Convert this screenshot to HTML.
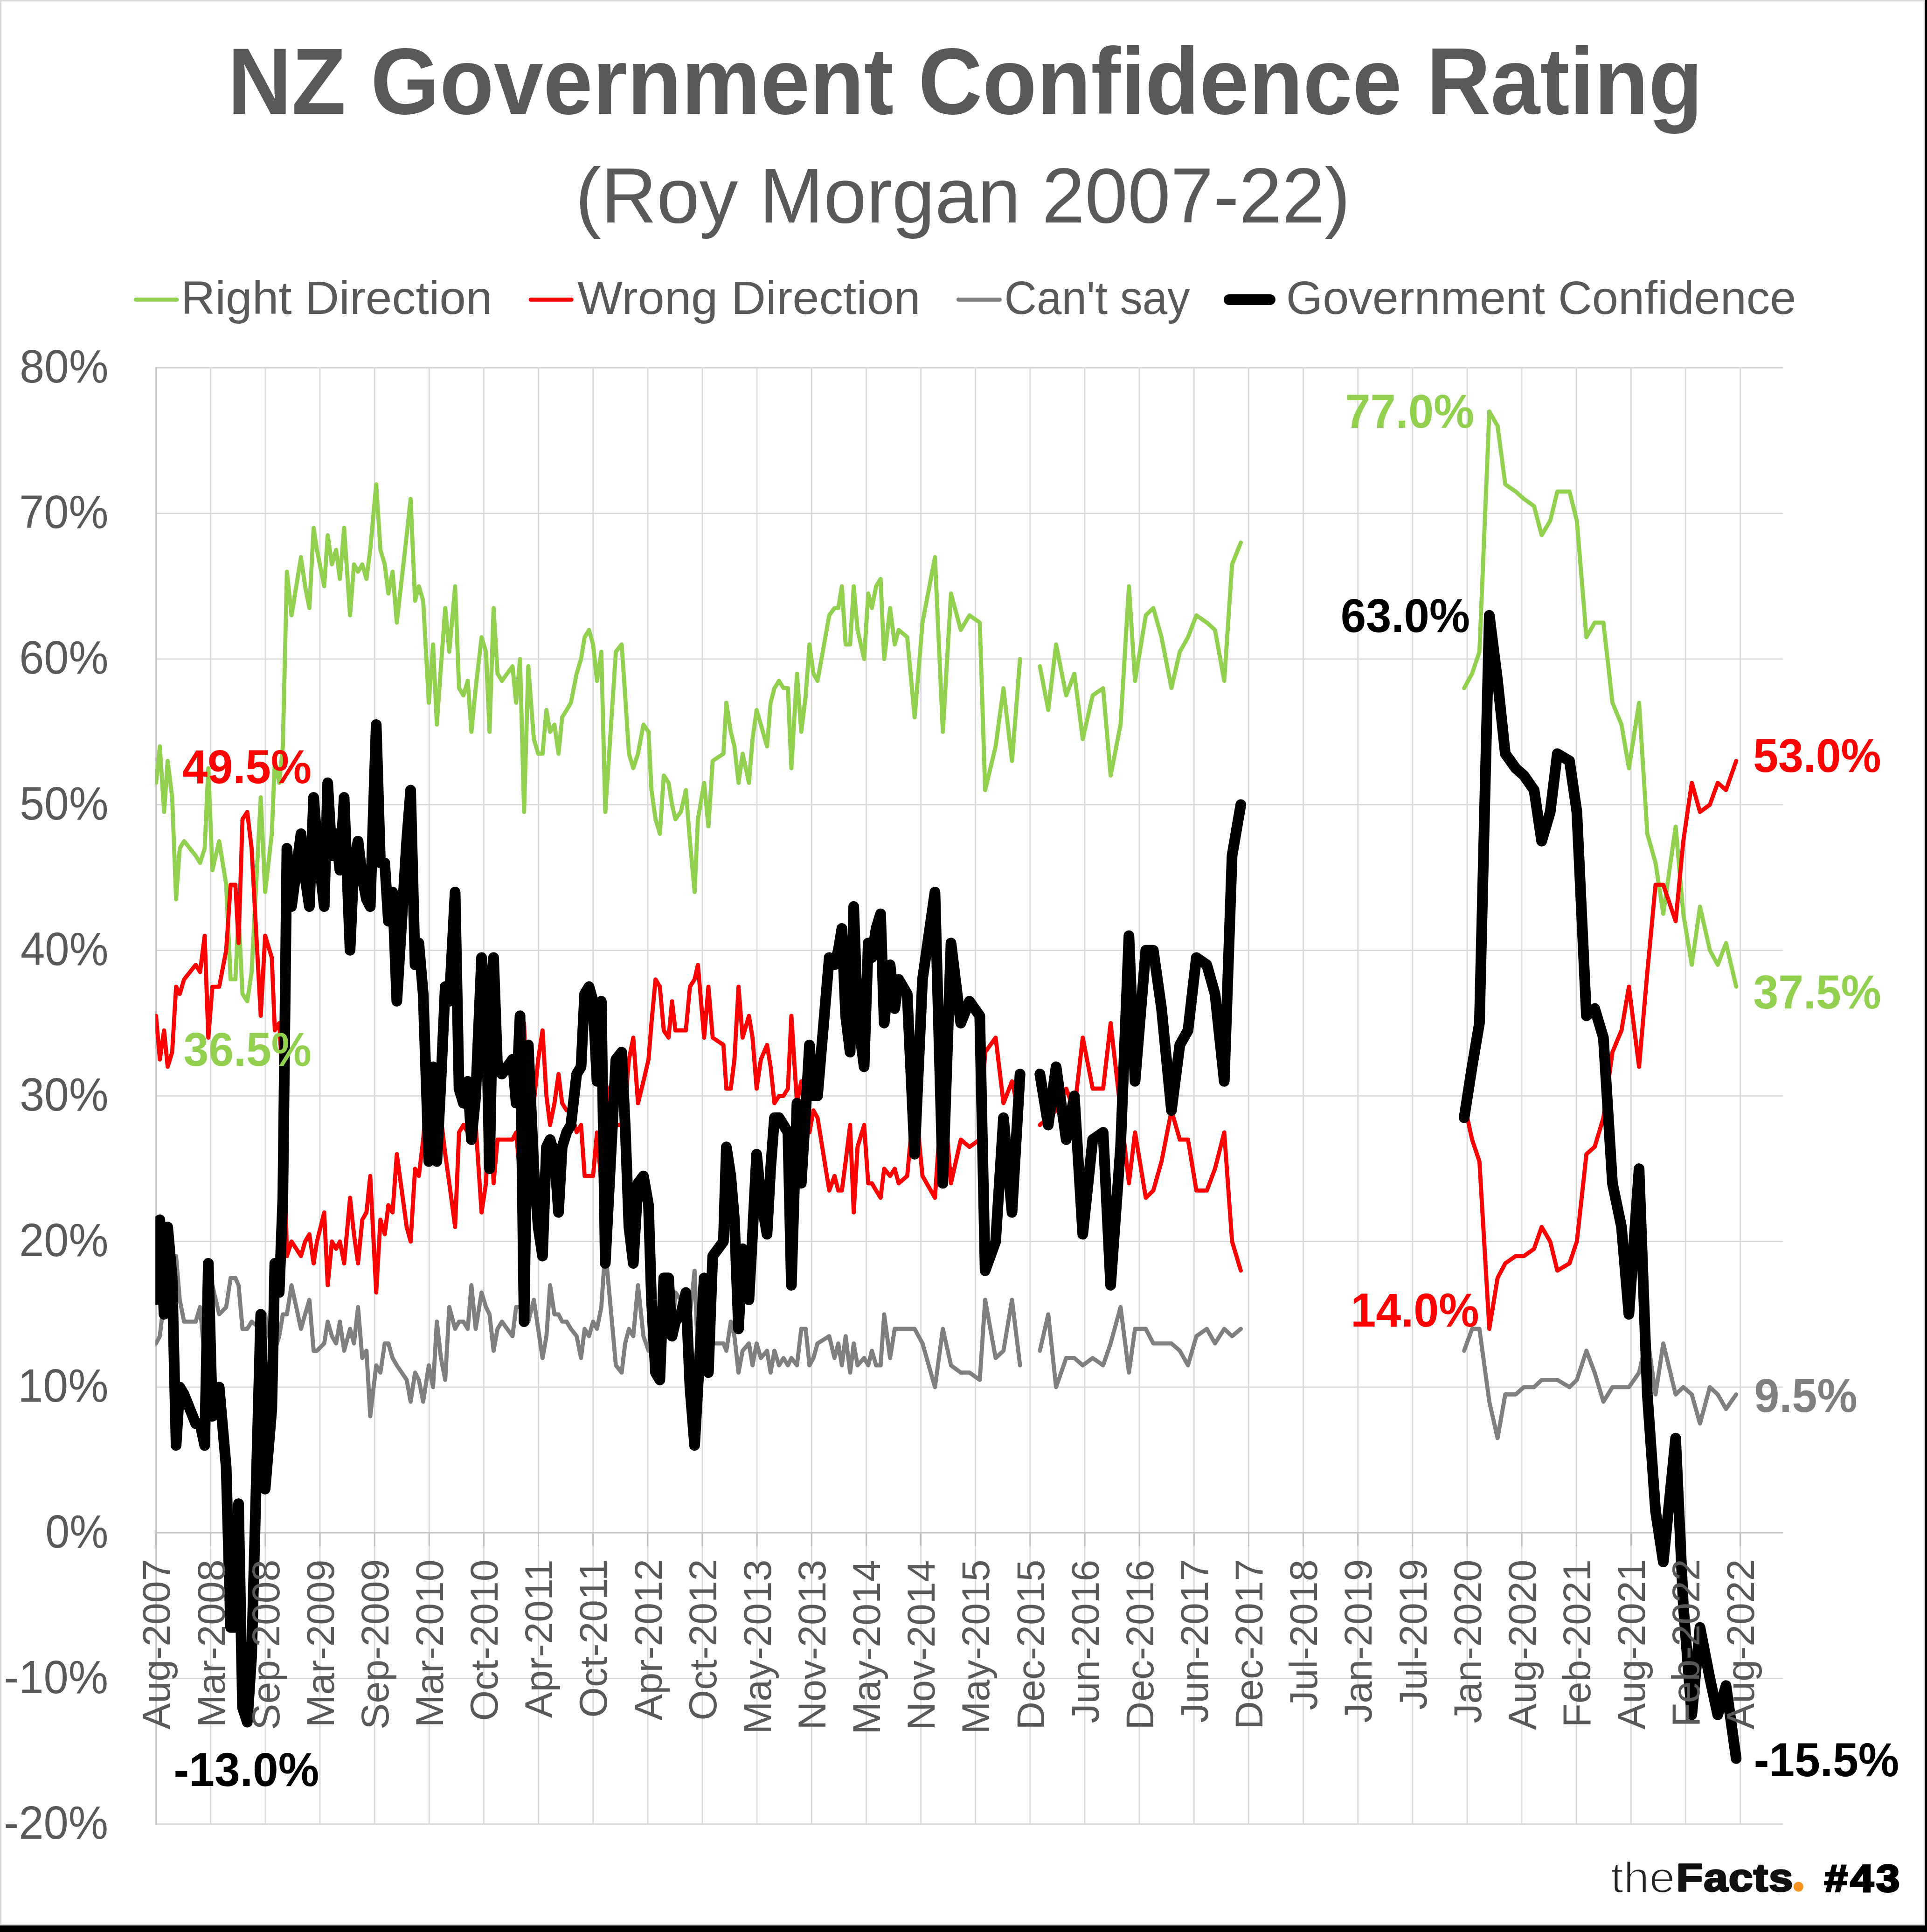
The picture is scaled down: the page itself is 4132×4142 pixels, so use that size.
<!DOCTYPE html>
<html><head><meta charset="utf-8"><title>NZ Government Confidence Rating</title>
<style>html,body{margin:0;padding:0;background:#fff;width:4132px;height:4142px;overflow:hidden}
svg text{font-family:"Liberation Sans",sans-serif}</style></head>
<body>
<svg width="4132" height="4142" viewBox="0 0 4132 4142" style="display:block;position:absolute;left:0;top:0">
<rect x="0" y="0" width="4132" height="4142" fill="#000"/>
<rect x="0" y="0" width="4128" height="4128" fill="#D9D9D9"/>
<rect x="3" y="3" width="4122" height="4122" fill="#fff"/>
<path d="M451.7 787.1V3911.9 M568.9 787.1V3911.9 M686.0 787.1V3911.9 M803.2 787.1V3911.9 M920.3 787.1V3911.9 M1037.4 787.1V3911.9 M1154.6 787.1V3911.9 M1271.7 787.1V3911.9 M1388.9 787.1V3911.9 M1506.0 787.1V3911.9 M1623.1 787.1V3911.9 M1740.3 787.1V3911.9 M1857.4 787.1V3911.9 M1974.6 787.1V3911.9 M2091.7 787.1V3911.9 M2208.8 787.1V3911.9 M2326.0 787.1V3911.9 M2443.1 787.1V3911.9 M2560.3 787.1V3911.9 M2677.4 787.1V3911.9 M2794.5 787.1V3911.9 M2911.7 787.1V3911.9 M3028.8 787.1V3911.9 M3146.0 787.1V3911.9 M3263.1 787.1V3911.9 M3380.2 787.1V3911.9 M3497.4 787.1V3911.9 M3614.5 787.1V3911.9 M3731.7 787.1V3911.9 M334.6 788.5H3823.5 M334.6 1100.7H3823.5 M334.6 1412.9H3823.5 M334.6 1725.1H3823.5 M334.6 2037.3H3823.5 M334.6 2349.5H3823.5 M334.6 2661.7H3823.5 M334.6 2973.9H3823.5 M334.6 3598.3H3823.5 M334.6 3910.5H3823.5" stroke="#D9D9D9" stroke-width="2.8" fill="none"/>
<path d="M334.6 787.1V3911.9 M334.6 3286.1H3823.5" stroke="#BFBFBF" stroke-width="2.9" fill="none"/>
<path d="M334.6 3286.1v29 M451.7 3286.1v29 M568.9 3286.1v29 M686.0 3286.1v29 M803.2 3286.1v29 M920.3 3286.1v29 M1037.4 3286.1v29 M1154.6 3286.1v29 M1271.7 3286.1v29 M1388.9 3286.1v29 M1506.0 3286.1v29 M1623.1 3286.1v29 M1740.3 3286.1v29 M1857.4 3286.1v29 M1974.6 3286.1v29 M2091.7 3286.1v29 M2208.8 3286.1v29 M2326.0 3286.1v29 M2443.1 3286.1v29 M2560.3 3286.1v29 M2677.4 3286.1v29 M2794.5 3286.1v29 M2911.7 3286.1v29 M3028.8 3286.1v29 M3146.0 3286.1v29 M3263.1 3286.1v29 M3380.2 3286.1v29 M3497.4 3286.1v29 M3614.5 3286.1v29 M3731.7 3286.1v29" stroke="#BFBFBF" stroke-width="2.9" fill="none"/>
<clipPath id="pc"><rect x="333.2" y="700" width="3490.3" height="3300"/></clipPath><g clip-path="url(#pc)">
<path d="M334.6 1678.3 L342.7 1600.2 L351.8 1740.7 L359.5 1631.4 L369.2 1709.5 L377.6 1928.0 L385.4 1818.8 L394.7 1803.2 L419.6 1834.4 L429.0 1850.0 L438.9 1818.8 L446.7 1647.0 L455.4 1865.6 L470.0 1803.2 L485.0 1896.8 L494.5 2099.7 L504.8 2099.7 L511.5 1959.2 L520.0 2131.0 L530.2 2146.6 L539.5 2084.1 L559.1 1709.5 L568.5 1912.4 L582.8 1787.5 L589.3 1631.4 L598.7 1678.3 L606.5 1600.2 L615.2 1225.6 L625.1 1319.2 L645.4 1194.4 L654.2 1256.8 L663.4 1303.6 L672.5 1131.9 L679.6 1178.8 L695.2 1256.8 L702.7 1147.5 L711.7 1210.0 L720.7 1178.8 L728.8 1241.2 L737.9 1131.9 L750.6 1319.2 L759.0 1210.0 L767.7 1225.6 L776.8 1210.0 L785.8 1241.2 L793.9 1178.8 L806.7 1038.3 L815.7 1178.8 L825.0 1210.0 L832.8 1272.4 L841.8 1225.6 L850.9 1334.8 L872.0 1147.5 L880.5 1069.5 L890.0 1288.0 L898.1 1256.8 L907.4 1288.0 L919.5 1506.6 L928.6 1381.7 L936.7 1553.4 L945.5 1428.5 L954.7 1303.6 L963.4 1397.3 L975.9 1256.8 L984.3 1475.3 L993.6 1490.9 L1003.0 1459.7 L1010.8 1569.0 L1020.0 1475.3 L1032.6 1366.1 L1042.0 1397.3 L1049.7 1569.0 L1058.4 1303.6 L1066.8 1444.1 L1076.2 1459.7 L1098.9 1428.5 L1106.7 1506.6 L1115.1 1412.9 L1123.8 1740.7 L1132.8 1428.5 L1144.7 1584.6 L1154.0 1615.8 L1163.3 1615.8 L1171.7 1522.2 L1179.5 1569.0 L1188.9 1553.4 L1197.6 1615.8 L1205.4 1537.8 L1215.0 1522.2 L1224.1 1506.6 L1236.5 1444.1 L1245.9 1412.9 L1253.6 1366.1 L1263.0 1350.5 L1271.7 1381.7 L1280.1 1459.7 L1289.4 1397.3 L1297.9 1740.7 L1320.6 1397.3 L1333.0 1381.7 L1340.5 1490.9 L1348.6 1615.8 L1357.9 1647.0 L1368.0 1615.8 L1379.7 1553.4 L1390.6 1569.0 L1396.9 1693.9 L1405.6 1756.3 L1414.9 1787.5 L1423.3 1662.7 L1433.6 1678.3 L1441.0 1725.1 L1448.2 1756.3 L1459.8 1740.7 L1470.7 1693.9 L1479.4 1803.2 L1489.4 1912.4 L1496.5 1756.3 L1509.9 1678.3 L1519.0 1771.9 L1528.2 1631.4 L1551.2 1615.8 L1557.5 1506.6 L1567.0 1569.0 L1574.8 1600.2 L1583.6 1678.3 L1592.4 1615.8 L1605.9 1678.3 L1613.6 1584.6 L1622.4 1522.2 L1631.5 1553.4 L1644.7 1600.2 L1652.4 1506.6 L1660.6 1475.3 L1670.4 1459.7 L1680.0 1475.3 L1689.5 1475.3 L1696.9 1647.0 L1708.9 1444.1 L1718.1 1569.0 L1727.6 1490.9 L1735.7 1381.7 L1744.2 1444.1 L1753.0 1459.7 L1778.1 1319.2 L1789.4 1303.6 L1797.5 1303.6 L1805.2 1256.8 L1813.3 1381.7 L1822.9 1381.7 L1830.6 1256.8 L1838.8 1350.5 L1852.9 1412.9 L1861.7 1272.4 L1869.5 1303.6 L1878.6 1256.8 L1888.2 1241.2 L1895.9 1412.9 L1908.6 1303.6 L1918.5 1381.7 L1927.0 1350.5 L1945.3 1366.1 L1961.2 1537.8 L1978.1 1334.8 L2004.8 1194.4 L2021.7 1569.0 L2039.2 1272.4 L2060.1 1350.5 L2078.8 1319.2 L2100.9 1334.8 L2112.4 1693.9 L2134.9 1600.2 L2151.7 1475.3 L2170.0 1631.4 L2187.2 1412.9 M2229.8 1428.5 L2247.7 1522.2 L2264.5 1381.7 L2286.2 1490.9 L2303.7 1444.1 L2321.7 1584.6 L2343.0 1490.9 L2365.4 1475.3 L2381.5 1662.7 L2402.8 1553.4 L2420.7 1256.8 L2433.8 1459.7 L2456.9 1319.2 L2473.0 1303.6 L2490.6 1366.1 L2511.9 1475.3 L2529.8 1397.3 L2547.4 1366.1 L2565.3 1319.2 L2587.7 1334.8 L2605.3 1350.5 L2625.1 1459.7 L2641.9 1210.0 L2660.6 1163.1 M3139.5 1475.3 L3156.5 1444.1 L3172.3 1397.3 L3193.5 882.2 L3211.2 913.4 L3227.7 1038.3 L3250.0 1053.9 L3267.6 1069.5 L3289.5 1085.1 L3305.7 1147.5 L3324.1 1116.3 L3339.3 1053.9 L3365.4 1053.9 L3381.2 1116.3 L3401.7 1366.1 L3419.4 1334.8 L3438.1 1334.8 L3457.5 1506.6 L3476.9 1553.4 L3492.8 1647.0 L3514.6 1506.6 L3532.3 1787.5 L3549.9 1850.0 L3566.5 1959.2 L3593.0 1771.9 L3609.5 1959.2 L3627.6 2068.5 L3645.2 1943.6 L3666.4 2037.3 L3683.3 2068.5 L3701.0 2021.7 L3722.8 2115.3" stroke="#92D050" stroke-width="8.8" fill="none" stroke-linejoin="round" stroke-linecap="round"/>
<path d="M334.6 2177.8 L342.7 2271.4 L351.8 2209.0 L359.5 2287.1 L369.2 2255.8 L377.6 2115.3 L385.4 2131.0 L394.7 2099.7 L419.6 2068.5 L429.0 2084.1 L438.9 2006.1 L446.7 2224.6 L455.4 2115.3 L470.0 2115.3 L485.0 2037.3 L494.5 1896.8 L504.8 1896.8 L511.5 2021.7 L520.0 1756.3 L530.2 1740.7 L539.5 1818.8 L559.1 2177.8 L568.5 2006.1 L582.8 2052.9 L589.3 2209.0 L598.7 2193.4 L606.5 2318.3 L615.2 2692.9 L625.1 2661.7 L645.4 2692.9 L654.2 2661.7 L663.4 2646.1 L672.5 2708.5 L679.6 2661.7 L695.2 2599.3 L702.7 2755.4 L711.7 2661.7 L720.7 2677.3 L728.8 2661.7 L737.9 2708.5 L750.6 2568.0 L759.0 2646.1 L767.7 2708.5 L776.8 2614.9 L785.8 2599.3 L793.9 2521.2 L806.7 2771.0 L815.7 2614.9 L825.0 2646.1 L832.8 2583.6 L841.8 2599.3 L850.9 2474.4 L872.0 2630.5 L880.5 2661.7 L890.0 2505.6 L898.1 2521.2 L907.4 2443.2 L919.5 2302.7 L928.6 2380.7 L936.7 2349.5 L945.5 2396.3 L954.7 2474.4 L963.4 2536.8 L975.9 2630.5 L984.3 2427.6 L993.6 2411.9 L1003.0 2427.6 L1010.8 2411.9 L1020.0 2411.9 L1032.6 2599.3 L1042.0 2536.8 L1049.7 2349.5 L1058.4 2536.8 L1066.8 2443.2 L1076.2 2443.2 L1098.9 2443.2 L1106.7 2427.6 L1115.1 2521.2 L1123.8 2193.4 L1132.8 2474.4 L1144.7 2365.1 L1154.0 2271.4 L1163.3 2209.0 L1171.7 2349.5 L1179.5 2411.9 L1188.9 2365.1 L1197.6 2302.7 L1205.4 2365.1 L1215.0 2380.7 L1224.1 2380.7 L1236.5 2427.6 L1245.9 2411.9 L1253.6 2521.2 L1263.0 2521.2 L1271.7 2521.2 L1280.1 2427.6 L1289.4 2536.8 L1297.9 2318.3 L1320.6 2411.9 L1333.0 2411.9 L1340.5 2365.1 L1348.6 2271.4 L1357.9 2224.6 L1368.0 2365.1 L1379.7 2318.3 L1390.6 2271.4 L1396.9 2193.4 L1405.6 2099.7 L1414.9 2115.3 L1423.3 2209.0 L1433.6 2224.6 L1441.0 2146.6 L1448.2 2209.0 L1459.8 2209.0 L1470.7 2209.0 L1479.4 2115.3 L1489.4 2099.7 L1496.5 2068.5 L1509.9 2224.6 L1519.0 2115.3 L1528.2 2224.6 L1551.2 2240.2 L1557.5 2333.9 L1567.0 2333.9 L1574.8 2271.4 L1583.6 2115.3 L1592.4 2224.6 L1605.9 2177.8 L1613.6 2224.6 L1622.4 2333.9 L1631.5 2271.4 L1644.7 2240.2 L1652.4 2287.1 L1660.6 2365.1 L1670.4 2349.5 L1680.0 2349.5 L1689.5 2333.9 L1696.9 2177.8 L1708.9 2365.1 L1718.1 2318.3 L1727.6 2396.3 L1735.7 2427.6 L1744.2 2380.7 L1753.0 2396.3 L1778.1 2552.4 L1789.4 2521.2 L1797.5 2552.4 L1805.2 2552.4 L1813.3 2490.0 L1822.9 2411.9 L1830.6 2599.3 L1838.8 2458.8 L1852.9 2411.9 L1861.7 2536.8 L1869.5 2536.8 L1878.6 2552.4 L1888.2 2568.0 L1895.9 2505.6 L1908.6 2521.2 L1918.5 2505.6 L1927.0 2536.8 L1945.3 2521.2 L1961.2 2349.5 L1978.1 2521.2 L2004.8 2568.0 L2021.7 2318.3 L2039.2 2536.8 L2060.1 2443.2 L2078.8 2458.8 L2100.9 2443.2 L2112.4 2255.8 L2134.9 2224.6 L2151.7 2365.1 L2170.0 2318.3 L2187.2 2396.3 M2229.8 2411.9 L2247.7 2396.3 L2264.5 2380.7 L2286.2 2333.9 L2303.7 2380.7 L2321.7 2224.6 L2343.0 2333.9 L2365.4 2333.9 L2381.5 2193.4 L2402.8 2380.7 L2420.7 2536.8 L2433.8 2427.6 L2456.9 2568.0 L2473.0 2552.4 L2490.6 2490.0 L2511.9 2380.7 L2529.8 2443.2 L2547.4 2443.2 L2565.3 2552.4 L2587.7 2552.4 L2605.3 2505.6 L2625.1 2427.6 L2641.9 2661.7 L2660.6 2724.1 M3139.5 2365.1 L3156.5 2443.2 L3172.3 2490.0 L3193.5 2849.0 L3211.2 2739.8 L3227.7 2708.5 L3250.0 2692.9 L3267.6 2692.9 L3289.5 2677.3 L3305.7 2630.5 L3324.1 2661.7 L3339.3 2724.1 L3365.4 2708.5 L3381.2 2661.7 L3401.7 2474.4 L3419.4 2458.8 L3438.1 2396.3 L3457.5 2255.8 L3476.9 2209.0 L3492.8 2115.3 L3514.6 2287.1 L3532.3 2084.1 L3549.9 1896.8 L3566.5 1896.8 L3593.0 1974.9 L3609.5 1803.2 L3627.6 1678.3 L3645.2 1740.7 L3666.4 1725.1 L3683.3 1678.3 L3701.0 1693.9 L3722.8 1631.4" stroke="#FF0000" stroke-width="8.8" fill="none" stroke-linejoin="round" stroke-linecap="round"/>
<path d="M334.6 2880.2 L342.7 2864.6 L351.8 2786.6 L359.5 2817.8 L369.2 2771.0 L377.6 2692.9 L385.4 2786.6 L394.7 2833.4 L419.6 2833.4 L429.0 2802.2 L438.9 2911.5 L446.7 2864.6 L455.4 2755.4 L470.0 2817.8 L485.0 2802.2 L494.5 2739.8 L504.8 2739.8 L511.5 2755.4 L520.0 2849.0 L530.2 2849.0 L539.5 2833.4 L559.1 2849.0 L568.5 2817.8 L582.8 2895.8 L589.3 2895.8 L598.7 2864.6 L606.5 2817.8 L615.2 2817.8 L625.1 2755.4 L645.4 2849.0 L654.2 2817.8 L663.4 2786.6 L672.5 2895.8 L679.6 2895.8 L695.2 2880.2 L702.7 2833.4 L711.7 2864.6 L720.7 2880.2 L728.8 2833.4 L737.9 2895.8 L750.6 2849.0 L759.0 2880.2 L767.7 2802.2 L776.8 2911.5 L785.8 2895.8 L793.9 3036.3 L806.7 2927.1 L815.7 2942.7 L825.0 2880.2 L832.8 2880.2 L841.8 2911.5 L850.9 2927.1 L872.0 2958.3 L880.5 3005.1 L890.0 2942.7 L898.1 2958.3 L907.4 3005.1 L919.5 2927.1 L928.6 2973.9 L936.7 2833.4 L945.5 2911.5 L954.7 2958.3 L963.4 2802.2 L975.9 2849.0 L984.3 2833.4 L993.6 2833.4 L1003.0 2849.0 L1010.8 2755.4 L1020.0 2849.0 L1032.6 2771.0 L1042.0 2802.2 L1049.7 2817.8 L1058.4 2895.8 L1066.8 2849.0 L1076.2 2833.4 L1098.9 2864.6 L1106.7 2802.2 L1115.1 2802.2 L1123.8 2802.2 L1132.8 2833.4 L1144.7 2786.6 L1154.0 2849.0 L1163.3 2911.5 L1171.7 2864.6 L1179.5 2755.4 L1188.9 2817.8 L1197.6 2817.8 L1205.4 2833.4 L1215.0 2833.4 L1224.1 2849.0 L1236.5 2864.6 L1245.9 2911.5 L1253.6 2849.0 L1263.0 2864.6 L1271.7 2833.4 L1280.1 2849.0 L1289.4 2802.2 L1297.9 2677.3 L1320.6 2927.1 L1333.0 2942.7 L1340.5 2880.2 L1348.6 2849.0 L1357.9 2864.6 L1368.0 2755.4 L1379.7 2864.6 L1390.6 2895.8 L1396.9 2849.0 L1405.6 2880.2 L1414.9 2833.4 L1423.3 2864.6 L1433.6 2833.4 L1441.0 2864.6 L1448.2 2771.0 L1459.8 2786.6 L1470.7 2833.4 L1479.4 2817.8 L1489.4 2724.1 L1496.5 2911.5 L1509.9 2833.4 L1519.0 2849.0 L1528.2 2880.2 L1551.2 2880.2 L1557.5 2895.8 L1567.0 2833.4 L1574.8 2864.6 L1583.6 2942.7 L1592.4 2895.8 L1605.9 2880.2 L1613.6 2927.1 L1622.4 2880.2 L1631.5 2911.5 L1644.7 2895.8 L1652.4 2942.7 L1660.6 2895.8 L1670.4 2927.1 L1680.0 2911.5 L1689.5 2927.1 L1696.9 2911.5 L1708.9 2927.1 L1718.1 2849.0 L1727.6 2849.0 L1735.7 2927.1 L1744.2 2911.5 L1753.0 2880.2 L1778.1 2864.6 L1789.4 2911.5 L1797.5 2880.2 L1805.2 2927.1 L1813.3 2864.6 L1822.9 2942.7 L1830.6 2880.2 L1838.8 2927.1 L1852.9 2911.5 L1861.7 2927.1 L1869.5 2895.8 L1878.6 2927.1 L1888.2 2927.1 L1895.9 2817.8 L1908.6 2911.5 L1918.5 2849.0 L1927.0 2849.0 L1945.3 2849.0 L1961.2 2849.0 L1978.1 2880.2 L2004.8 2973.9 L2021.7 2849.0 L2039.2 2927.1 L2060.1 2942.7 L2078.8 2942.7 L2100.9 2958.3 L2112.4 2786.6 L2134.9 2911.5 L2151.7 2895.8 L2170.0 2786.6 L2187.2 2927.1 M2229.8 2895.8 L2247.7 2817.8 L2264.5 2973.9 L2286.2 2911.5 L2303.7 2911.5 L2321.7 2927.1 L2343.0 2911.5 L2365.4 2927.1 L2381.5 2880.2 L2402.8 2802.2 L2420.7 2942.7 L2433.8 2849.0 L2456.9 2849.0 L2473.0 2880.2 L2490.6 2880.2 L2511.9 2880.2 L2529.8 2895.8 L2547.4 2927.1 L2565.3 2864.6 L2587.7 2849.0 L2605.3 2880.2 L2625.1 2849.0 L2641.9 2864.6 L2660.6 2849.0 M3139.5 2895.8 L3156.5 2849.0 L3172.3 2849.0 L3193.5 3005.1 L3211.2 3083.2 L3227.7 2989.5 L3250.0 2989.5 L3267.6 2973.9 L3289.5 2973.9 L3305.7 2958.3 L3324.1 2958.3 L3339.3 2958.3 L3365.4 2973.9 L3381.2 2958.3 L3401.7 2895.8 L3419.4 2942.7 L3438.1 3005.1 L3457.5 2973.9 L3476.9 2973.9 L3492.8 2973.9 L3514.6 2942.7 L3532.3 2864.6 L3549.9 2989.5 L3566.5 2880.2 L3593.0 2989.5 L3609.5 2973.9 L3627.6 2989.5 L3645.2 3051.9 L3666.4 2973.9 L3683.3 2989.5 L3701.0 3020.7 L3722.8 2989.5" stroke="#7F7F7F" stroke-width="8.8" fill="none" stroke-linejoin="round" stroke-linecap="round"/>
<path d="M334.6 2786.6 L342.7 2614.9 L351.8 2817.8 L359.5 2630.5 L369.2 2739.8 L377.6 3098.8 L385.4 2973.9 L394.7 2989.5 L419.6 3051.9 L429.0 3051.9 L438.9 3098.8 L446.7 2708.5 L455.4 3036.3 L470.0 2973.9 L485.0 3145.6 L494.5 3489.0 L504.8 3489.0 L511.5 3223.7 L520.0 3660.7 L530.2 3692.0 L539.5 3551.5 L559.1 2817.8 L568.5 3192.4 L582.8 3020.7 L589.3 2708.5 L598.7 2771.0 L606.5 2568.0 L615.2 1818.8 L625.1 1943.6 L645.4 1787.5 L654.2 1881.2 L663.4 1943.6 L672.5 1709.5 L679.6 1803.2 L695.2 1943.6 L702.7 1678.3 L711.7 1834.4 L720.7 1787.5 L728.8 1865.6 L737.9 1709.5 L750.6 2037.3 L759.0 1850.0 L767.7 1803.2 L776.8 1881.2 L785.8 1928.0 L793.9 1943.6 L806.7 1553.4 L815.7 1850.0 L825.0 1850.0 L832.8 1974.9 L841.8 1912.4 L850.9 2146.6 L872.0 1803.2 L880.5 1693.9 L890.0 2068.5 L898.1 2021.7 L907.4 2131.0 L919.5 2490.0 L928.6 2287.1 L936.7 2490.0 L945.5 2318.3 L954.7 2115.3 L963.4 2146.6 L975.9 1912.4 L984.3 2333.9 L993.6 2365.1 L1003.0 2318.3 L1010.8 2443.2 L1020.0 2349.5 L1032.6 2052.9 L1042.0 2146.6 L1049.7 2505.6 L1058.4 2052.9 L1066.8 2287.1 L1076.2 2302.7 L1098.9 2271.4 L1106.7 2365.1 L1115.1 2177.8 L1123.8 2833.4 L1132.8 2240.2 L1144.7 2505.6 L1154.0 2630.5 L1163.3 2692.9 L1171.7 2458.8 L1179.5 2443.2 L1188.9 2474.4 L1197.6 2599.3 L1205.4 2458.8 L1215.0 2427.6 L1224.1 2411.9 L1236.5 2302.7 L1245.9 2287.1 L1253.6 2131.0 L1263.0 2115.3 L1271.7 2146.6 L1280.1 2318.3 L1289.4 2146.6 L1297.9 2708.5 L1320.6 2271.4 L1333.0 2255.8 L1340.5 2411.9 L1348.6 2630.5 L1357.9 2708.5 L1368.0 2536.8 L1379.7 2521.2 L1390.6 2583.6 L1396.9 2786.6 L1405.6 2942.7 L1414.9 2958.3 L1423.3 2739.8 L1433.6 2739.8 L1441.0 2864.6 L1448.2 2833.4 L1459.8 2817.8 L1470.7 2771.0 L1479.4 2973.9 L1489.4 3098.8 L1496.5 2973.9 L1509.9 2739.8 L1519.0 2942.7 L1528.2 2692.9 L1551.2 2661.7 L1557.5 2458.8 L1567.0 2521.2 L1574.8 2614.9 L1583.6 2849.0 L1592.4 2677.3 L1605.9 2786.6 L1613.6 2646.1 L1622.4 2474.4 L1631.5 2568.0 L1644.7 2646.1 L1652.4 2505.6 L1660.6 2396.3 L1670.4 2396.3 L1680.0 2411.9 L1689.5 2427.6 L1696.9 2755.4 L1708.9 2365.1 L1718.1 2536.8 L1727.6 2380.7 L1735.7 2240.2 L1744.2 2349.5 L1753.0 2349.5 L1778.1 2052.9 L1789.4 2068.5 L1797.5 2037.3 L1805.2 1990.5 L1813.3 2177.8 L1822.9 2255.8 L1830.6 1943.6 L1838.8 2177.8 L1852.9 2287.1 L1861.7 2021.7 L1869.5 2052.9 L1878.6 1990.5 L1888.2 1959.2 L1895.9 2193.4 L1908.6 2068.5 L1918.5 2162.2 L1927.0 2099.7 L1945.3 2131.0 L1961.2 2474.4 L1978.1 2099.7 L2004.8 1912.4 L2021.7 2536.8 L2039.2 2021.7 L2060.1 2193.4 L2078.8 2146.6 L2100.9 2177.8 L2112.4 2724.1 L2134.9 2661.7 L2151.7 2396.3 L2170.0 2599.3 L2187.2 2302.7 M2229.8 2302.7 L2247.7 2411.9 L2264.5 2287.1 L2286.2 2443.2 L2303.7 2349.5 L2321.7 2646.1 L2343.0 2443.2 L2365.4 2427.6 L2381.5 2755.4 L2402.8 2458.8 L2420.7 2006.1 L2433.8 2318.3 L2456.9 2037.3 L2473.0 2037.3 L2490.6 2162.2 L2511.9 2380.7 L2529.8 2240.2 L2547.4 2209.0 L2565.3 2052.9 L2587.7 2068.5 L2605.3 2131.0 L2625.1 2318.3 L2641.9 1834.4 L2660.6 1725.1 M3139.5 2396.3 L3156.5 2287.1 L3172.3 2193.4 L3193.5 1319.2 L3211.2 1459.7 L3227.7 1615.8 L3250.0 1647.0 L3267.6 1662.7 L3289.5 1693.9 L3305.7 1803.2 L3324.1 1740.7 L3339.3 1615.8 L3365.4 1631.4 L3381.2 1740.7 L3401.7 2177.8 L3419.4 2162.2 L3438.1 2224.6 L3457.5 2536.8 L3476.9 2630.5 L3492.8 2817.8 L3514.6 2505.6 L3532.3 2989.5 L3549.9 3239.3 L3566.5 3348.5 L3593.0 3083.2 L3609.5 3442.2 L3627.6 3676.3 L3645.2 3489.0 L3666.4 3598.3 L3683.3 3676.3 L3701.0 3613.9 L3722.8 3770.0" stroke="#000000" stroke-width="23" fill="none" stroke-linejoin="round" stroke-linecap="round"/>
</g>
<text transform="translate(42.13 820.09) scale(0.9428 1)" font-size="100.85" fill="#595959">80%</text>
<text transform="translate(41.16 1132.29) scale(0.9477 1)" font-size="100.85" fill="#595959">70%</text>
<text transform="translate(41.16 1444.49) scale(0.9477 1)" font-size="100.85" fill="#595959">60%</text>
<text transform="translate(42.13 1756.69) scale(0.9428 1)" font-size="100.85" fill="#595959">50%</text>
<text transform="translate(44.03 2068.89) scale(0.9332 1)" font-size="100.85" fill="#595959">40%</text>
<text transform="translate(42.13 2381.09) scale(0.9428 1)" font-size="100.85" fill="#595959">30%</text>
<text transform="translate(41.16 2693.29) scale(0.9477 1)" font-size="100.85" fill="#595959">20%</text>
<text transform="translate(38.2 3005.49) scale(0.9626 1)" font-size="100.85" fill="#595959">10%</text>
<text transform="translate(97.19 3317.69) scale(0.9268 1)" font-size="100.85" fill="#595959">0%</text>
<text transform="translate(8.3 3629.89) scale(0.9504 1)" font-size="100.85" fill="#595959">-10%</text>
<text transform="translate(8.3 3942.09) scale(0.9504 1)" font-size="100.85" fill="#595959">-20%</text>
<text transform="translate(364.36 3707.64) rotate(-90) scale(1.0046 1)" font-size="83.8" fill="#595959">Aug-2007</text>
<text transform="translate(481.5 3703.62) rotate(-90) scale(1.0046 1)" font-size="83.8" fill="#595959">Mar-2008</text>
<text transform="translate(598.64 3708.65) rotate(-90) scale(1.0046 1)" font-size="83.8" fill="#595959">Sep-2008</text>
<text transform="translate(715.78 3703.62) rotate(-90) scale(1.0046 1)" font-size="83.8" fill="#595959">Mar-2009</text>
<text transform="translate(832.92 3707.64) rotate(-90) scale(1.0046 1)" font-size="83.8" fill="#595959">Sep-2009</text>
<text transform="translate(950.06 3703.62) rotate(-90) scale(1.0046 1)" font-size="83.8" fill="#595959">Mar-2010</text>
<text transform="translate(1067.2 3689.56) rotate(-90) scale(1.0046 1)" font-size="83.8" fill="#595959">Oct-2010</text>
<text transform="translate(1184.34 3683.53) rotate(-90) scale(1.0046 1)" font-size="83.8" fill="#595959">Apr-2011</text>
<text transform="translate(1301.48 3682.53) rotate(-90) scale(1.0046 1)" font-size="83.8" fill="#595959">Oct-2011</text>
<text transform="translate(1418.62 3688.56) rotate(-90) scale(1.0046 1)" font-size="83.8" fill="#595959">Apr-2012</text>
<text transform="translate(1535.76 3688.56) rotate(-90) scale(1.0046 1)" font-size="83.8" fill="#595959">Oct-2012</text>
<text transform="translate(1652.9 3717.69) rotate(-90) scale(1.0046 1)" font-size="83.8" fill="#595959">May-2013</text>
<text transform="translate(1770.04 3708.65) rotate(-90) scale(1.0046 1)" font-size="83.8" fill="#595959">Nov-2013</text>
<text transform="translate(1887.18 3718.69) rotate(-90) scale(1.0046 1)" font-size="83.8" fill="#595959">May-2014</text>
<text transform="translate(2004.32 3709.65) rotate(-90) scale(1.0046 1)" font-size="83.8" fill="#595959">Nov-2014</text>
<text transform="translate(2121.46 3717.69) rotate(-90) scale(1.0046 1)" font-size="83.8" fill="#595959">May-2015</text>
<text transform="translate(2238.6 3708.65) rotate(-90) scale(1.0046 1)" font-size="83.8" fill="#595959">Dec-2015</text>
<text transform="translate(2355.74 3694.58) rotate(-90) scale(1.0046 1)" font-size="83.8" fill="#595959">Jun-2016</text>
<text transform="translate(2472.88 3708.65) rotate(-90) scale(1.0046 1)" font-size="83.8" fill="#595959">Dec-2016</text>
<text transform="translate(2590.02 3693.58) rotate(-90) scale(1.0046 1)" font-size="83.8" fill="#595959">Jun-2017</text>
<text transform="translate(2707.16 3707.64) rotate(-90) scale(1.0046 1)" font-size="83.8" fill="#595959">Dec-2017</text>
<text transform="translate(2824.3 3666.45) rotate(-90) scale(1.0046 1)" font-size="83.8" fill="#595959">Jul-2018</text>
<text transform="translate(2941.44 3693.58) rotate(-90) scale(1.0046 1)" font-size="83.8" fill="#595959">Jan-2019</text>
<text transform="translate(3058.58 3665.45) rotate(-90) scale(1.0046 1)" font-size="83.8" fill="#595959">Jul-2019</text>
<text transform="translate(3175.72 3694.58) rotate(-90) scale(1.0046 1)" font-size="83.8" fill="#595959">Jan-2020</text>
<text transform="translate(3292.86 3708.65) rotate(-90) scale(1.0046 1)" font-size="83.8" fill="#595959">Aug-2020</text>
<text transform="translate(3410.0 3703.62) rotate(-90) scale(1.0046 1)" font-size="83.8" fill="#595959">Feb-2021</text>
<text transform="translate(3527.14 3707.64) rotate(-90) scale(1.0046 1)" font-size="83.8" fill="#595959">Aug-2021</text>
<text transform="translate(3644.28 3702.62) rotate(-90) scale(1.0046 1)" font-size="83.8" fill="#595959">Feb-2022</text>
<text transform="translate(3761.42 3707.64) rotate(-90) scale(1.0046 1)" font-size="83.8" fill="#595959">Aug-2022</text>
<text transform="translate(487.92 243.9) scale(0.9446 1)" font-size="201.59" fill="#595959" font-weight="bold">NZ Government Confidence Rating</text>
<text transform="translate(1233.69 477.4) scale(0.9912 1)" font-size="166.67" fill="#595959">(Roy Morgan 2007-22)</text>
<text transform="translate(387.87 673.1) scale(1.0168 1)" font-size="100.14" fill="#595959">Right Direction</text>
<text transform="translate(1237.97 673.1) scale(1.0277 1)" font-size="100.14" fill="#595959">Wrong Direction</text>
<text transform="translate(2153.5 673.1) scale(0.9601 1)" font-size="100.14" fill="#595959">Can't say</text>
<text transform="translate(2757.86 673.1) scale(1.0075 1)" font-size="100.14" fill="#595959">Government Confidence</text>
<text transform="translate(2884.34 916.8) scale(0.9643 1)" font-size="101.16" fill="#92D050" font-weight="bold">77.0%</text>
<text transform="translate(2874.63 1354.6) scale(0.9671 1)" font-size="101.16" fill="#000000" font-weight="bold">63.0%</text>
<text transform="translate(2896.24 2844.4) scale(0.9597 1)" font-size="101.16" fill="#FF0000" font-weight="bold">14.0%</text>
<text transform="translate(390.67 1679.1) scale(0.9667 1)" font-size="101.16" fill="#FF0000" font-weight="bold">49.5%</text>
<text transform="translate(393.39 2284.5) scale(0.9571 1)" font-size="101.16" fill="#92D050" font-weight="bold">36.5%</text>
<text transform="translate(372.51 3828.7) scale(0.9729 1)" font-size="101.16" fill="#000000" font-weight="bold">-13.0%</text>
<text transform="translate(3759.13 1655.2) scale(0.9573 1)" font-size="101.16" fill="#FF0000" font-weight="bold">53.0%</text>
<text transform="translate(3759.59 2162.1) scale(0.9557 1)" font-size="101.16" fill="#92D050" font-weight="bold">37.5%</text>
<text transform="translate(3761.56 3027.0) scale(0.9589 1)" font-size="101.16" fill="#7F7F7F" font-weight="bold">9.5%</text>
<text transform="translate(3760.71 3808.4) scale(0.972 1)" font-size="101.16" fill="#000000" font-weight="bold">-15.5%</text>
<text transform="translate(3594.6 4053.97) scale(1.1079 1)" font-size="84.09" fill="#111111" font-weight="bold" letter-spacing="1.5" stroke="#111111" stroke-width="3.5" stroke-linejoin="round">Facts</text>
<text transform="translate(3911.89 4055.0) scale(1.1106 1)" font-size="81.16" fill="#000000" font-weight="bold" letter-spacing="5" stroke="#000" stroke-width="4" stroke-linejoin="miter">#43</text>
<text transform="translate(3453.62 4056.5) scale(1.0805 1)" font-size="92.0" fill="#222222" stroke="#fff" stroke-width="2.4">the</text>
<path d="M291.5 642.3H379" stroke="#92D050" stroke-width="8.8" stroke-linecap="round"/>
<path d="M1138 642.3H1225.3" stroke="#FF0000" stroke-width="8.8" stroke-linecap="round"/>
<path d="M2055.3 642.3H2143.5" stroke="#7F7F7F" stroke-width="8.8" stroke-linecap="round"/>
<path d="M2635.4 642.4H2723.4" stroke="#000000" stroke-width="23" stroke-linecap="round"/>
<circle cx="3856.4" cy="4045" r="10.6" fill="#F7931E"/>
</svg>
</body></html>
